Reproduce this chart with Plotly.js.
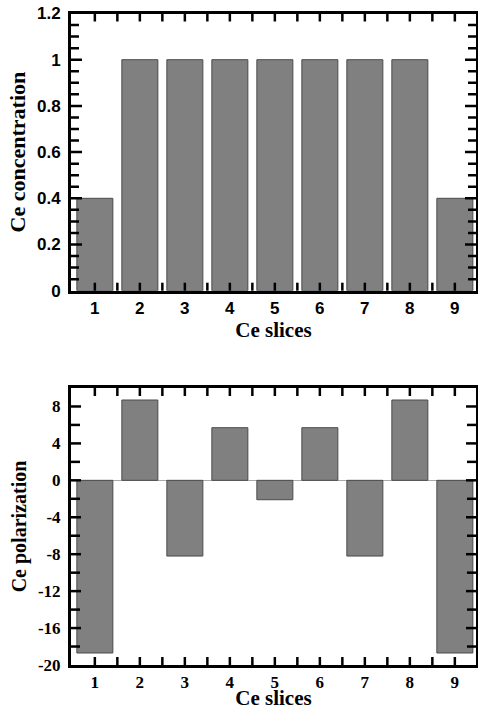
<!DOCTYPE html>
<html><head><meta charset="utf-8">
<script src="https://cdn.plot.ly/plotly-3.0.1.min.js"></script>
<style>html,body{margin:0;padding:0;background:#fff}#chart{width:478px;height:710px}</style>
</head><body><div id="chart"></div>
<script>
const slices = [1, 2, 3, 4, 5, 6, 7, 8, 9];
const concentration = [0.4, 1, 1, 1, 1, 1, 1, 1, 0.4];
const polarization = [-18.7, 8.7, -8.2, 5.7, -2.1, 5.7, -8.2, 8.7, -18.7];
const concTicks = [0, 0.2, 0.4, 0.6, 0.8, 1, 1.2];
const concTickText = ['0', '0.2', '0.4', '0.6', '0.8', '1', '1.2'];
const polTicks = [-20, -16, -12, -8, -4, 0, 4, 8];
const polTickText = ['-20', '-16', '-12', '-8', '-4', '0', '4', '8'];

const W = 478, H = 710;
const plotL = 71, plotR = 476;
const topPlot = {t: 13.5, b: 290.7};
const botPlot = {t: 388, b: 665};
const xRange = [0.47, 9.47];

const barStyle = {color: '#808080', line: {color: '#4a4a4a', width: 1}};
const traces = [
  {type: 'bar', x: slices, y: concentration, width: 0.8, marker: barStyle, xaxis: 'x', yaxis: 'y'},
  {type: 'bar', x: slices, y: polarization, width: 0.8, marker: barStyle, xaxis: 'x2', yaxis: 'y2'}
];

const sansBold = {family: '"Liberation Sans", Arial, Helvetica, sans-serif', size: 17, color: '#000', weight: 700};
const serifBold = {family: '"Liberation Serif", "Times New Roman", serif', size: 17, color: '#000', weight: 700};
const titleFont = (s) => ({family: '"Liberation Serif", "Times New Roman", serif', size: s, color: '#000', weight: 700});

function xAxis(anchor, tickfont) {
  return {
    domain: [plotL/W, plotR/W], anchor: anchor, range: xRange,
    tickmode: 'array', tickvals: slices, ticktext: slices.map(String), ticks: '',
    showline: true, linewidth: 3, linecolor: '#000', mirror: true,
    showgrid: false, zeroline: false, tickfont: tickfont, ticklabelstandoff: 0,
    title: {text: 'Ce slices', font: titleFont(21), standoff: 1}
  };
}
function yAxis(anchor, box, range, tv, tt, tickfont, title, tsize) {
  return {
    domain: [(H - box.b)/H, (H - box.t)/H], anchor: anchor, range: range,
    tickmode: 'array', tickvals: tv, ticktext: tt, ticks: '',
    showline: true, linewidth: 3, linecolor: '#000', mirror: true,
    showgrid: false, tickfont: tickfont, ticklabelstandoff: 4,
    title: {text: title, font: titleFont(tsize), standoff: 6}
  };
}

// inside tick marks as small filled rectangles, placed through the axes
const shapes = [];
const tickW = 2.5;
const pxPerX = (plotR - plotL) / (xRange[1] - xRange[0]);
function rect(o) { return Object.assign({type: 'rect', fillcolor: '#000', line: {width: 0}, layer: 'above'}, o); }
function xTicks(xr, yr, box) {
  const len = 8 / (box.b - box.t), dx = tickW / 2 / pxPerX;
  const pos = slices.concat(slices.slice(0, -1).map(v => v + 0.5));
  pos.forEach(v => {
    shapes.push(rect({xref: xr, yref: yr + ' domain', x0: v - dx, x1: v + dx, y0: 0, y1: len}));
    shapes.push(rect({xref: xr, yref: yr + ' domain', x0: v - dx, x1: v + dx, y0: 1 - len, y1: 1}));
  });
}
function yTicks(xr, yr, box, lo, hi, step, majors, majLen, minLen) {
  const w = plotR - plotL;
  const dy = tickW / 2 * (hi - lo) / (box.b - box.t);
  const n = Math.round((hi - lo) / step);
  for (let i = 1; i < n; i++) {
    const v = lo + i * step;
    const isMajor = majors.some(m => Math.abs(m - v) < 1e-9);
    const len = (isMajor ? majLen : minLen) / w;
    shapes.push(rect({xref: xr + ' domain', yref: yr, x0: 0, x1: len, y0: v - dy, y1: v + dy}));
    shapes.push(rect({xref: xr + ' domain', yref: yr, x0: 1 - len, x1: 1, y0: v - dy, y1: v + dy}));
  }
}
xTicks('x', 'y', topPlot);
xTicks('x2', 'y2', botPlot);
yTicks('x', 'y', topPlot, 0, 1.2, 0.05, concTicks, 11, 8);
yTicks('x2', 'y2', botPlot, -20, 10, 2, polTicks, 10, 9);

const layout = {
  width: W, height: H, showlegend: false,
  margin: {l: 0, r: 0, t: 0, b: 0},
  paper_bgcolor: '#fff', plot_bgcolor: '#fff',
  xaxis: xAxis('y', sansBold),
  yaxis: Object.assign(yAxis('x', topPlot, [0, 1.2], concTicks, concTickText, sansBold, 'Ce concentration', 22), {zeroline: false}),
  xaxis2: xAxis('y2', serifBold),
  yaxis2: Object.assign(yAxis('x2', botPlot, [-20, 10], polTicks, polTickText, serifBold, 'Ce polarization', 20), {zeroline: true, zerolinecolor: '#aaa', zerolinewidth: 1}),
  shapes: shapes
};

Plotly.newPlot('chart', traces, layout, {staticPlot: true, displayModeBar: false});
</script></body></html>
